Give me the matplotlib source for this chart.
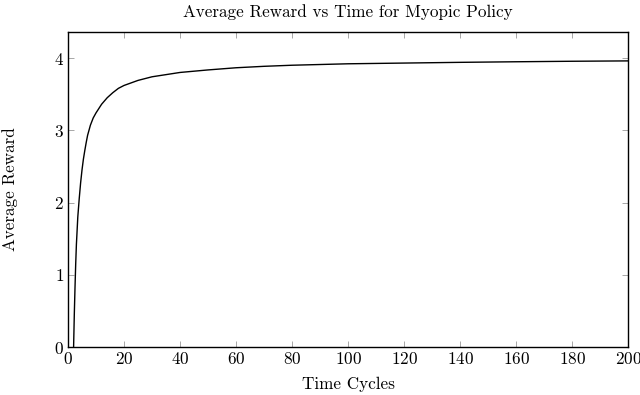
import matplotlib
matplotlib.use("Agg")
import matplotlib.pyplot as plt

plt.rcParams['font.family'] = ['cmr10', 'DejaVu Serif']
plt.rcParams['mathtext.fontset'] = 'cm'
plt.rcParams['axes.formatter.use_mathtext'] = True

time_cycles = [2, 2.25, 2.5, 2.75, 3, 3.5, 4, 4.5, 5, 5.5, 6, 6.5, 7, 8, 9, 10, 12, 14,
               16, 18, 20, 25, 30, 35, 40, 50, 60, 70, 80, 100, 120, 140, 160, 180, 200]
avg_reward = [0.0, 0.45, 0.82, 1.15, 1.42, 1.8, 2.05, 2.27, 2.45, 2.6, 2.72, 2.83, 2.93,
              3.07, 3.17, 3.24, 3.36, 3.45, 3.52, 3.58, 3.62, 3.69, 3.74, 3.77, 3.8,
              3.835, 3.865, 3.885, 3.9, 3.92, 3.93, 3.94, 3.948, 3.955, 3.96]
x_ticks = [0, 20, 40, 60, 80, 100, 120, 140, 160, 180, 200]
y_ticks = [0, 1, 2, 3, 4]

fs = 12.3
fig = plt.figure(figsize=(6.4, 3.95), dpi=100)
ax = fig.add_axes([68/640, 1 - 347/395, (628-68)/640, (347-32)/395])
ax.plot(time_cycles, avg_reward, color='black', lw=1.0)
ax.set_xlim(0, 200)
ax.set_ylim(0, 4.36)
ax.set_xticks(x_ticks)
ax.set_yticks(y_ticks)
ax.tick_params(direction='in', length=4, width=0.6, color='#999999',
               top=True, right=True, labelsize=fs, pad=3)
for s in ax.spines.values():
    s.set_linewidth(1.0)
ax.set_title('Average Reward vs Time for Myopic Policy', fontsize=fs, pad=11)
ax.set_xlabel('Time Cycles', fontsize=fs, labelpad=7)
ax.set_ylabel('Average Reward', fontsize=fs)
ax.yaxis.set_label_coords(-0.09, 0.5)
fig.savefig('out.png', dpi=100)
